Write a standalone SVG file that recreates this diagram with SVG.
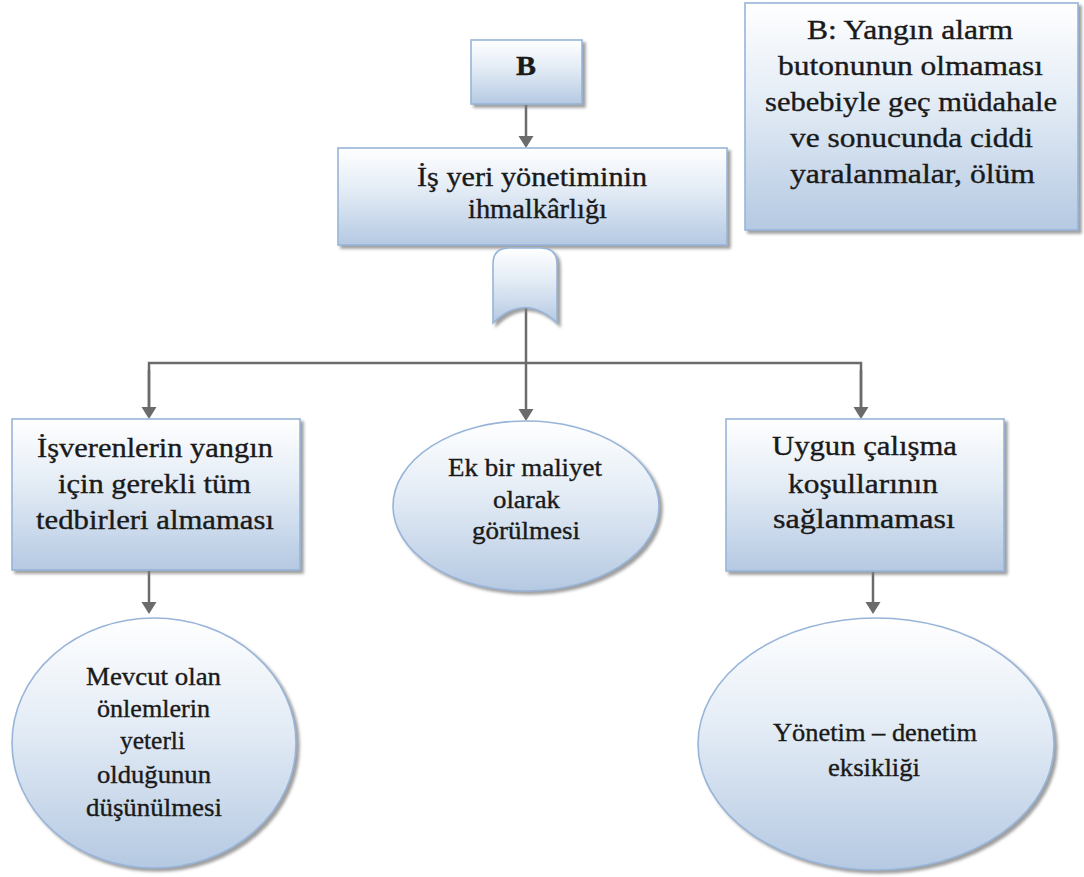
<svg xmlns="http://www.w3.org/2000/svg" width="1084" height="877" viewBox="0 0 1084 877">
  <defs>
    <linearGradient id="fillBlue" x1="0" y1="0" x2="0" y2="1">
      <stop offset="0" stop-color="#ffffff"/>
      <stop offset="0.45" stop-color="#e2ebf5"/>
      <stop offset="1" stop-color="#b5c9e2"/>
    </linearGradient>
    <filter id="shadow" x="-10%" y="-10%" width="125%" height="125%">
      <feDropShadow dx="3" dy="3" stdDeviation="1.5" flood-color="#7f7f7f" flood-opacity="0.75"/>
    </filter>
    <marker id="arrow" markerUnits="userSpaceOnUse" viewBox="0 -8 12 16" refX="0" refY="0" markerWidth="12" markerHeight="16" orient="auto">
      <path d="M0,-7.5 L12,0 L0,7.5 Z" fill="#6b6b6b"/>
    </marker>
  </defs>
  <style>
    .shape { fill: url(#fillBlue); stroke: #98b5d9; stroke-width: 1.6; filter: url(#shadow); }
    .conn { fill: none; stroke: #6b6b6b; stroke-width: 2.5; }
    .lbl { font-family: "Liberation Serif", "Times New Roman", serif; font-size: 27px; fill: #1a1a1a; stroke: #1a1a1a; stroke-width: 0.35; }
    .lbl-s { font-family: "Liberation Serif", "Times New Roman", serif; font-size: 25px; fill: #1a1a1a; stroke: #1a1a1a; stroke-width: 0.35; }
  </style>

  <rect width="1084" height="877" fill="#ffffff"/>

  <!-- connectors -->
  <g id="connectors">
    <path class="conn" d="M526,105 V136" marker-end="url(#arrow)"/>
    <path class="conn" d="M526,308 V409" marker-end="url(#arrow)"/>
    <path class="conn" d="M149,407 V363 H861 V407" />
    <path class="conn" d="M149,370 V407" marker-end="url(#arrow)"/>
    <path class="conn" d="M861,370 V407" marker-end="url(#arrow)"/>
    <path class="conn" d="M149,571 V602" marker-end="url(#arrow)"/>
    <path class="conn" d="M873,572 V602" marker-end="url(#arrow)"/>
  </g>

  <!-- top event -->
  <g id="node-b">
    <rect class="shape" x="471" y="40" width="111" height="64"/>
    <text class="lbl" x="516" y="75" font-size="28" font-weight="bold" textLength="20" lengthAdjust="spacingAndGlyphs">B</text>
  </g>

  <!-- legend box -->
  <g id="node-legend">
    <rect class="shape" x="745" y="3" width="333" height="227"/>
    <text class="lbl" x="807" y="39" textLength="206" lengthAdjust="spacingAndGlyphs">B: Yangın alarm</text>
    <text class="lbl" x="778" y="75" textLength="265" lengthAdjust="spacingAndGlyphs">butonunun olmaması</text>
    <text class="lbl" x="765" y="111" textLength="292" lengthAdjust="spacingAndGlyphs">sebebiyle geç müdahale</text>
    <text class="lbl" x="790" y="147" textLength="243" lengthAdjust="spacingAndGlyphs">ve sonucunda ciddi</text>
    <text class="lbl" x="790" y="183" textLength="245" lengthAdjust="spacingAndGlyphs">yaralanmalar, ölüm</text>
  </g>

  <!-- main cause -->
  <g id="node-main">
    <rect class="shape" x="338" y="148" width="389" height="97"/>
    <text class="lbl" x="417" y="186" textLength="230" lengthAdjust="spacingAndGlyphs">İş yeri yönetiminin</text>
    <text class="lbl" x="468" y="218" textLength="139" lengthAdjust="spacingAndGlyphs">ihmalkârlığı</text>
  </g>

  <!-- OR gate -->
  <g id="node-gate">
    <path class="shape" d="M493,323 V264 Q493,248 509,248 H541 Q557,248 557,264 V323 Q525,292 493,323 Z"/>
  </g>

  <!-- second level -->
  <g id="node-left">
    <rect class="shape" x="12" y="419" width="288" height="151"/>
    <text class="lbl" x="37" y="457" textLength="236" lengthAdjust="spacingAndGlyphs">İşverenlerin yangın</text>
    <text class="lbl" x="58" y="493" textLength="193" lengthAdjust="spacingAndGlyphs">için gerekli tüm</text>
    <text class="lbl" x="36" y="529" textLength="238" lengthAdjust="spacingAndGlyphs">tedbirleri almaması</text>
  </g>

  <g id="node-middle">
    <ellipse class="shape" cx="526" cy="506" rx="133" ry="85"/>
    <text class="lbl-s" x="448" y="476" textLength="154" lengthAdjust="spacingAndGlyphs">Ek bir maliyet</text>
    <text class="lbl-s" x="493" y="508" textLength="67" lengthAdjust="spacingAndGlyphs">olarak</text>
    <text class="lbl-s" x="472" y="539" textLength="108" lengthAdjust="spacingAndGlyphs">görülmesi</text>
  </g>

  <g id="node-right">
    <rect class="shape" x="726" y="419" width="278" height="152"/>
    <text class="lbl" x="772" y="455" textLength="185" lengthAdjust="spacingAndGlyphs">Uygun çalışma</text>
    <text class="lbl" x="788" y="493" textLength="150" lengthAdjust="spacingAndGlyphs">koşullarının</text>
    <text class="lbl" x="773" y="528" textLength="182" lengthAdjust="spacingAndGlyphs">sağlanmaması</text>
  </g>

  <!-- third level -->
  <g id="node-left-bottom">
    <ellipse class="shape" cx="154" cy="743" rx="142" ry="125"/>
    <text class="lbl-s" x="86" y="685" textLength="135" lengthAdjust="spacingAndGlyphs">Mevcut olan</text>
    <text class="lbl-s" x="97" y="717" textLength="113" lengthAdjust="spacingAndGlyphs">önlemlerin</text>
    <text class="lbl-s" x="120" y="749" textLength="65" lengthAdjust="spacingAndGlyphs">yeterli</text>
    <text class="lbl-s" x="97" y="783" textLength="114" lengthAdjust="spacingAndGlyphs">olduğunun</text>
    <text class="lbl-s" x="86" y="816" textLength="136" lengthAdjust="spacingAndGlyphs">düşünülmesi</text>
  </g>

  <g id="node-right-bottom">
    <ellipse class="shape" cx="876" cy="744" rx="178" ry="126"/>
    <text class="lbl-s" x="773" y="741" textLength="204" lengthAdjust="spacingAndGlyphs">Yönetim – denetim</text>
    <text class="lbl-s" x="828" y="776" textLength="92" lengthAdjust="spacingAndGlyphs">eksikliği</text>
  </g>
</svg>
